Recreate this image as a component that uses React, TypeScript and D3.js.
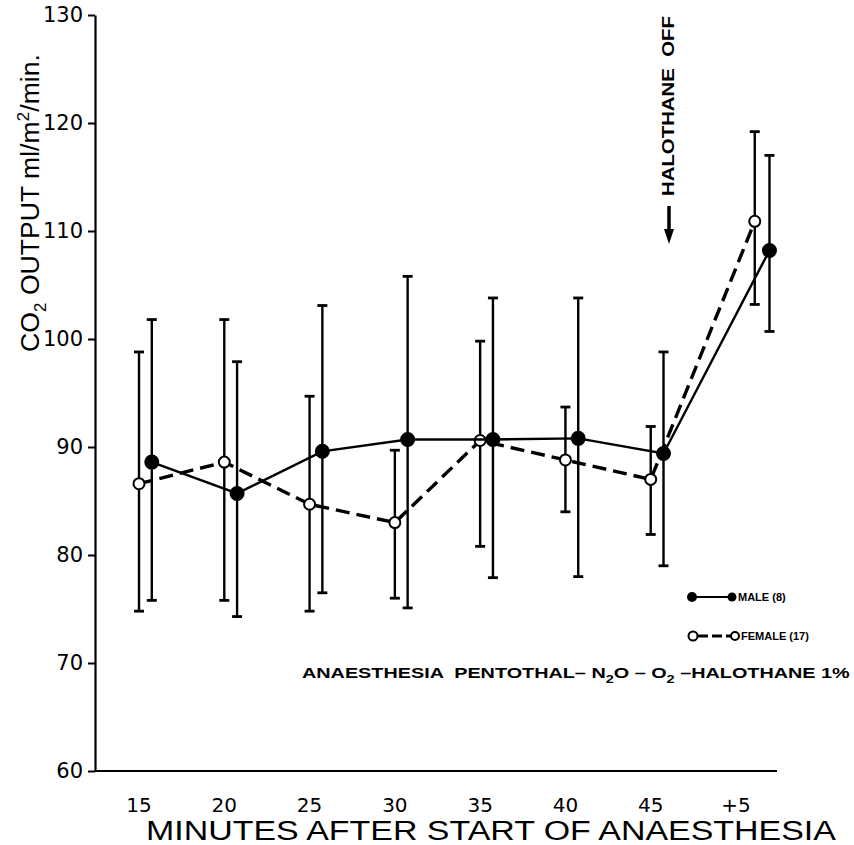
import React, { useEffect, useRef } from 'react';
import * as d3 from 'd3';

// time points (x categories)
const timeLabels = ['15', '20', '25', '30', '35', '40', '45', '+5'];
const timePos = [0, 1, 2, 3, 4, 5, 6, 7.22];

// male (8) mean and error bars
const maleMean = [88.6, 85.7, 89.6, 90.7, 90.7, 90.8, 89.4, 108.2];
const maleHigh = [101.8, 97.9, 103.1, 105.8, 103.8, 103.8, 98.8, 117];
const maleLow = [75.8, 74.3, 76.5, 75.1, 77.9, 78, 79, 100.7];

// female (17) mean and error bars
const femaleMean = [86.6, 88.6, 84.7, 83, 90.6, 88.8, 87, 110.9];
const femaleHigh = [98.8, 101.8, 94.7, 89.7, 99.8, 93.7, 91.9, 119.2];
const femaleLow = [74.8, 75.8, 74.8, 76, 80.8, 84, 81.9, 103.2];

const yTicks = [60, 70, 80, 90, 100, 110, 120, 130];

// squeeze a text node horizontally to a given width
const fitWidth = (sel: any, x0: number, y0: number, w: number, rot = 0) => {
  const node = sel.node() as SVGTextElement;
  const len = node.getComputedTextLength();
  const k = len > 0 ? w / len : 1;
  sel.attr('transform', `translate(${x0},${y0}) rotate(${rot}) scale(${k},1)`);
};

const App = () => {
  const ref = useRef<SVGSVGElement>(null);

  useEffect(() => {
    const svg = d3.select(ref.current);
    svg.selectAll('*').remove();

    const width = 854, height = 845;
    svg.attr('width', width).attr('height', height);

    const x = d3.scaleLinear().domain([0, 7]).range([139, 736]);
    const y = d3.scaleLinear().domain([60, 130]).range([771, 15]);
    const maleShift = 0.15;

    // y axis
    const yAxis = svg.append('g')
      .attr('transform', 'translate(95,0)')
      .call(d3.axisLeft(y).tickValues(yTicks).tickSize(7).tickPadding(5).tickSizeOuter(0));
    yAxis.select('.domain').attr('stroke', '#000').attr('stroke-width', 2.2);
    yAxis.selectAll('.tick line').attr('stroke-width', 2);
    yAxis.selectAll('.tick text')
      .attr('font-family', 'DejaVu Sans, sans-serif')
      .attr('font-size', 21)
      .attr('fill', '#000');

    // x axis (line + labels only)
    svg.append('line')
      .attr('x1', 95).attr('x2', 777)
      .attr('y1', 771).attr('y2', 771)
      .attr('stroke', '#000').attr('stroke-width', 2.2);
    svg.append('g').selectAll('text')
      .data(timeLabels)
      .join('text')
      .attr('x', (d, i) => x(i))
      .attr('y', 812)
      .attr('text-anchor', 'middle')
      .attr('font-family', 'DejaVu Sans, sans-serif')
      .attr('font-size', 20)
      .text(d => d);

    const xt = svg.append('text')
      .attr('font-family', 'Liberation Sans, sans-serif')
      .attr('font-size', 27)
      .text('MINUTES AFTER START OF ANAESTHESIA');
    fitWidth(xt, 146, 840, 690);

    // y label
    const yl = svg.append('text')
      .attr('font-family', 'Liberation Sans, sans-serif')
      .attr('font-size', 26);
    yl.append('tspan').text('CO');
    yl.append('tspan').attr('dy', 7).attr('font-size', 17).text('2');
    yl.append('tspan').attr('dy', -7).text(' OUTPUT ml/m');
    yl.append('tspan').attr('dy', -10).attr('font-size', 17).text('2');
    yl.append('tspan').attr('dy', 10).text('/min.');
    fitWidth(yl, 39, 352, 298, -90);

    const series = [
      { mean: femaleMean, hi: femaleHigh, lo: femaleLow, shift: 0, dash: '14,7', filled: false },
      { mean: maleMean, hi: maleHigh, lo: maleLow, shift: maleShift, dash: null, filled: true },
    ];

    series.forEach(s => {
      const g = svg.append('g');
      const px = (i: number) => x(timePos[i] + s.shift + (i === 7 ? s.shift * 0.15 : 0));

      // error bars
      const eb = g.selectAll('g.eb').data(s.mean).join('g');
      eb.append('line')
        .attr('x1', (d, i) => px(i)).attr('x2', (d, i) => px(i))
        .attr('y1', (d, i) => y(s.hi[i])).attr('y2', (d, i) => y(s.lo[i]))
        .attr('stroke', '#000').attr('stroke-width', 2.4);
      [s.hi, s.lo].forEach(arr => {
        eb.append('line')
          .attr('x1', (d, i) => px(i) - 5).attr('x2', (d, i) => px(i) + 5)
          .attr('y1', (d, i) => y(arr[i])).attr('y2', (d, i) => y(arr[i]))
          .attr('stroke', '#000').attr('stroke-width', 2.8);
      });

      // connecting line
      const line = d3.line<number>()
        .x((d, i) => px(i))
        .y(d => y(d));
      g.append('path')
        .attr('d', line(s.mean))
        .attr('fill', 'none')
        .attr('stroke', '#000')
        .attr('stroke-width', s.filled ? 2.4 : 3.4)
        .attr('stroke-dasharray', s.dash);

      g.selectAll('circle').data(s.mean).join('circle')
        .attr('cx', (d, i) => px(i))
        .attr('cy', d => y(d))
        .attr('r', s.filled ? 6.5 : 5.5)
        .attr('fill', s.filled ? '#000' : '#fff')
        .attr('stroke', '#000')
        .attr('stroke-width', 2);
    });

    // halothane off annotation
    const ho = svg.append('text')
      .attr('font-family', 'Liberation Sans, sans-serif')
      .attr('font-weight', 'bold')
      .attr('font-size', 16)
      .attr('xml:space', 'preserve')
      .text('HALOTHANE  OFF');
    fitWidth(ho, 674, 196, 180, -90);
    svg.append('line')
      .attr('x1', 669).attr('x2', 669).attr('y1', 206).attr('y2', 232)
      .attr('stroke', '#000').attr('stroke-width', 3.5);
    svg.append('path')
      .attr('d', 'M664,229 L674,229 L669,244 Z')
      .attr('fill', '#000');

    // legend
    const lg = svg.append('g')
      .attr('font-family', 'Liberation Sans, sans-serif')
      .attr('font-weight', 'bold')
      .attr('font-size', 11);
    lg.append('line').attr('x1', 692).attr('x2', 732).attr('y1', 597).attr('y2', 597)
      .attr('stroke', '#000').attr('stroke-width', 2.2);
    lg.append('circle').attr('cx', 692).attr('cy', 597).attr('r', 5).attr('fill', '#000');
    lg.append('circle').attr('cx', 732).attr('cy', 597).attr('r', 4.5).attr('fill', '#000');
    lg.append('text').attr('x', 738).attr('y', 601).text('MALE (8)');

    lg.append('line').attr('x1', 698).attr('x2', 732).attr('y1', 636).attr('y2', 636)
      .attr('stroke', '#000').attr('stroke-width', 3).attr('stroke-dasharray', '10,4');
    lg.append('circle').attr('cx', 693).attr('cy', 636).attr('r', 4.5).attr('fill', '#fff')
      .attr('stroke', '#000').attr('stroke-width', 2);
    lg.append('circle').attr('cx', 735).attr('cy', 636).attr('r', 4).attr('fill', '#fff')
      .attr('stroke', '#000').attr('stroke-width', 2);
    lg.append('text').attr('x', 741).attr('y', 640).text('FEMALE (17)');

    // anaesthesia note
    const note = svg.append('text')
      .attr('font-family', 'Liberation Sans, sans-serif')
      .attr('font-weight', 'bold')
      .attr('font-size', 15)
      .attr('xml:space', 'preserve');
    note.append('tspan').text('ANAESTHESIA  PENTOTHAL– N');
    note.append('tspan').attr('dy', 5).attr('font-size', 11).text('2');
    note.append('tspan').attr('dy', -5).text('O – O');
    note.append('tspan').attr('dy', 5).attr('font-size', 11).text('2');
    note.append('tspan').attr('dy', -5).text(' –HALOTHANE 1%');
    fitWidth(note, 302, 678, 548);
  }, []);

  return <svg ref={ref} style={{ position: 'absolute', left: 0, top: 0 }}></svg>;
};

export default App;
